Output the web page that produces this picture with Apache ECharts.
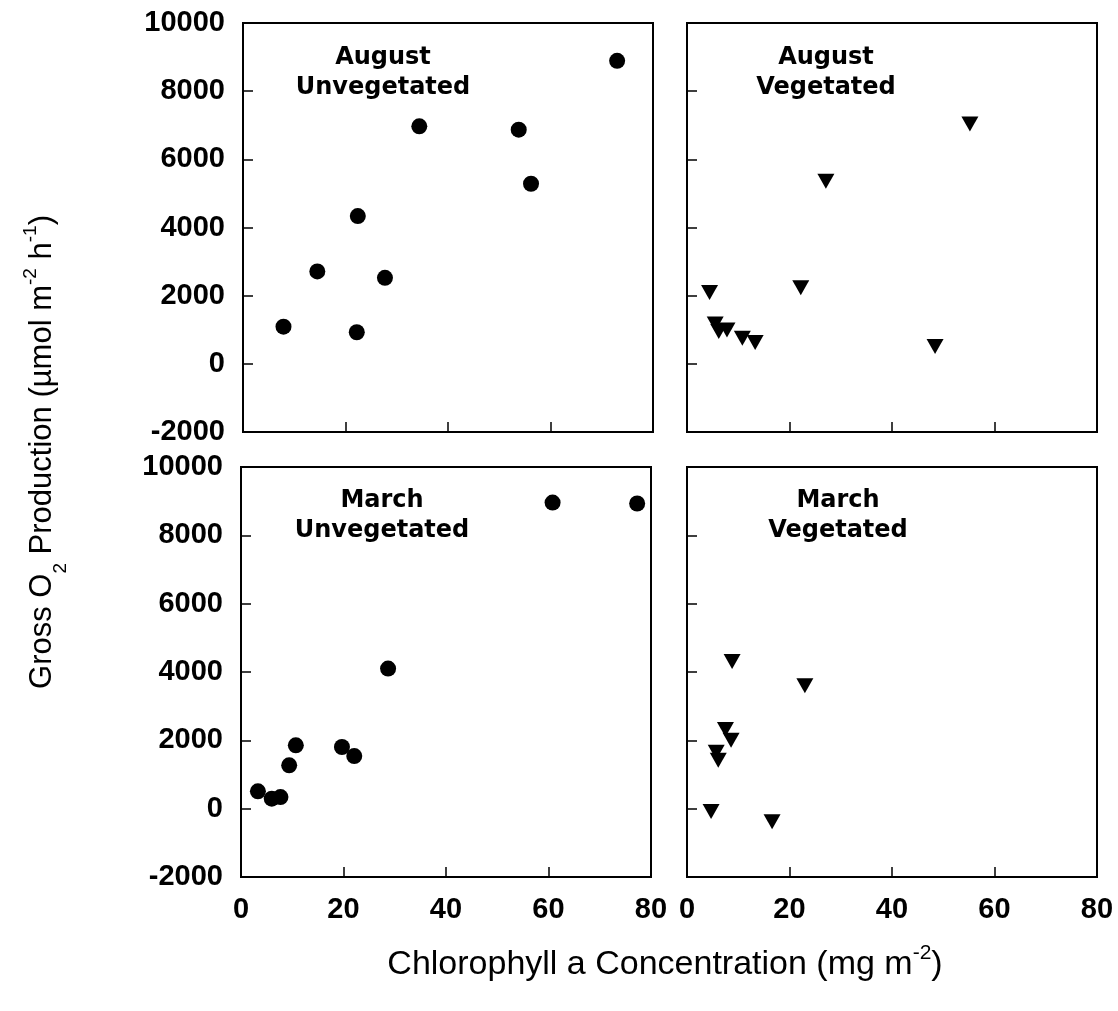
<!DOCTYPE html>
<html>
<head>
<meta charset="utf-8">
<script src="https://cdn.jsdelivr.net/npm/echarts@6/dist/echarts.min.js"></script>
<style>
html,body{margin:0;padding:0;background:#fff;}
#c{width:1118px;height:1011px;}
</style>
</head>
<body>
<div id="c"></div>
<script>
// ---- data ----
var augUnvegX = [7.9, 14.5, 22.2, 22.4, 27.7, 34.4, 53.8, 56.2, 73.0];
var augUnvegY = [1090, 2710, 927, 4336, 2524, 6968, 6871, 5283, 8889];
var augVegX = [4.4, 5.5, 6.2, 7.8, 10.8, 13.3, 22.2, 27.1, 48.4, 55.2];
var augVegY = [2096, 1170, 945, 994, 751, 623, 2231, 5360, 506, 7037];
var marUnvegX = [3.3, 6.0, 7.7, 9.4, 10.7, 19.7, 22.1, 28.7, 60.8, 77.3];
var marUnvegY = [507, 293, 340, 1268, 1853, 1804, 1540, 4099, 8960, 8931];
var marVegX = [4.7, 5.7, 6.1, 7.5, 8.6, 8.8, 16.6, 23.0];
var marVegY = [-80, 1650, 1415, 2320, 2000, 4310, -380, 3600];
var yTicks = [-2000, 0, 2000, 4000, 6000, 8000, 10000];
var xTicks = [0, 20, 40, 60, 80];
var panelTitles = [['August', 'Unvegetated'], ['August', 'Vegetated'], ['March', 'Unvegetated'], ['March', 'Vegetated']];

function pairs(xs, ys) { return xs.map(function (x, i) { return [x, ys[i]]; }); }

var grids = [
  {left: 243, top: 23, width: 410, height: 409},
  {left: 687, top: 23, width: 410, height: 409},
  {left: 241, top: 467, width: 410, height: 410},
  {left: 687, top: 467, width: 410, height: 410}
];
grids.forEach(function (g) { g.show = true; g.borderColor = '#000'; g.borderWidth = 2; g.backgroundColor = 'transparent'; });

var labelFont = {fontFamily: 'Liberation Sans', fontWeight: 'bold', fontSize: 29, color: '#000'};
function plain(v) { return String(v); }

var xAxes = [], yAxes = [];
for (var i = 0; i < 4; i++) {
  xAxes.push({
    gridIndex: i, type: 'value', min: xTicks[0], max: xTicks[xTicks.length - 1], interval: 20,
    axisLine: {show: true, onZero: false, lineStyle: {color: '#000', width: 2}},
    axisTick: {show: true, inside: true, length: 10, lineStyle: {color: '#000', width: 1.5}},
    axisLabel: Object.assign({show: i >= 2, margin: 18, showMinLabel: true, showMaxLabel: true, formatter: plain}, labelFont),
    splitLine: {show: false}
  });
  yAxes.push({
    gridIndex: i, type: 'value', min: yTicks[0], max: yTicks[yTicks.length - 1], interval: 2000,
    axisLine: {show: true, onZero: false, lineStyle: {color: '#000', width: 2}},
    axisTick: {show: true, inside: true, length: 10, lineStyle: {color: '#000', width: 1.5}},
    axisLabel: Object.assign({show: i % 2 === 0, margin: 18, showMinLabel: true, showMaxLabel: true, formatter: plain}, labelFont),
    splitLine: {show: false}
  });
}

function circleSeries(idx, xs, ys) {
  return {type: 'scatter', xAxisIndex: idx, yAxisIndex: idx, data: pairs(xs, ys),
    symbol: 'circle', symbolSize: 16, itemStyle: {color: '#000', opacity: 1}, silent: true};
}
function triSeries(idx, xs, ys) {
  return {type: 'scatter', xAxisIndex: idx, yAxisIndex: idx, data: pairs(xs, ys),
    symbol: 'triangle', symbolRotate: 180, symbolSize: [17, 15], itemStyle: {color: '#000', opacity: 1}, silent: true};
}

var titleCenters = [[383, 73], [826, 73], [382, 516], [838, 516]];
var graphics = [];
panelTitles.forEach(function (t, i) {
  graphics.push({
    type: 'text', x: titleCenters[i][0], y: titleCenters[i][1],
    style: {text: t[0] + '\n' + t[1], align: 'center', verticalAlign: 'middle',
      fontFamily: 'DejaVu Sans', fontWeight: 'bold', fontSize: 24, lineHeight: 30, fill: '#000'}
  });
});

function richSet(size, lh, supPad) {
  var s = Math.round(size * 0.62);
  return {
    a: {fontFamily: 'Liberation Sans', fontSize: size, lineHeight: lh, verticalAlign: 'middle', color: '#000'},
    sub: {fontFamily: 'Liberation Sans', fontSize: s, lineHeight: s, verticalAlign: 'bottom', color: '#000'},
    sup: {fontFamily: 'Liberation Sans', fontSize: s, lineHeight: s, verticalAlign: 'top', padding: [supPad, 0, 0, 0], color: '#000'}
  };
}
graphics.push({
  type: 'text', x: 42, y: 452, rotation: Math.PI / 2,
  style: {rich: richSet(31, 56, 7), align: 'center', verticalAlign: 'middle',
    text: '{a|Gross O}{sub|2}{a| Production (\u00b5mol m}{sup|-2}{a| h}{sup|-1}{a|)}'}
});
graphics.push({
  type: 'text', x: 665, y: 965,
  style: {rich: richSet(34, 44, 0), align: 'center', verticalAlign: 'middle',
    text: '{a|Chlorophyll a Concentration (mg m}{sup|-2}{a|)}'}
});

var chart = echarts.init(document.getElementById('c'), null, {renderer: 'canvas'});
chart.setOption({
  animation: false,
  backgroundColor: '#fff',
  grid: grids,
  xAxis: xAxes,
  yAxis: yAxes,
  series: [
    circleSeries(0, augUnvegX, augUnvegY),
    triSeries(1, augVegX, augVegY),
    circleSeries(2, marUnvegX, marUnvegY),
    triSeries(3, marVegX, marVegY)
  ],
  graphic: graphics
});
</script>
</body>
</html>
